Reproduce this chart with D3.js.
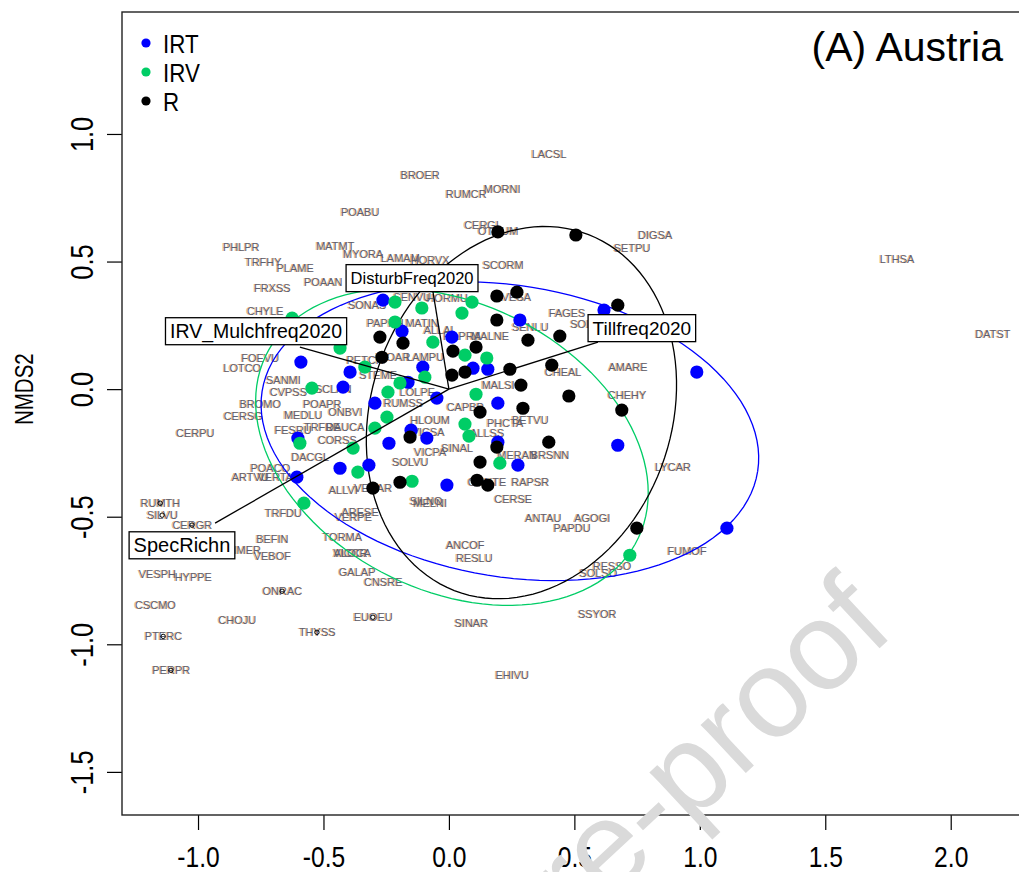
<!DOCTYPE html>
<html>
<head>
<meta charset="utf-8">
<script src="https://cdn.jsdelivr.net/npm/d3@7"></script>
<style>
  html, body { margin: 0; padding: 0; background: #ffffff; }
  svg { display: block; }
</style>
</head>
<body>
<svg id="chart" width="1019" height="872"></svg>
<script>
// ---- NMDS site scores [NMDS1, NMDS2] by management group ----
const irtSites = [
  [-0.263, 0.349], [-0.187, 0.227], [0.012, 0.204], [-0.104, 0.086], [0.096, 0.082],
  [0.155, 0.078], [-0.394, 0.067], [-0.422, 0.008], [-0.163, 0.027], [-0.048, -0.035],
  [-0.295, -0.055], [0.195, -0.055], [0.283, 0.271], [-0.151, -0.161], [-0.088, -0.192],
  [-0.239, -0.212], [0.195, -0.208], [-0.434, -0.310], [-0.319, -0.298], [0.275, -0.298],
  [-0.008, -0.376], [-0.590, 0.106], [-0.602, -0.192], [-0.606, -0.345], [0.618, 0.310],
  [0.988, 0.067], [0.673, -0.220], [1.108, -0.545]
];
const irvSites = [
  [-0.215, 0.341], [-0.108, 0.318], [0.092, 0.341], [0.052, 0.298], [-0.215, 0.263],
  [-0.064, 0.184], [0.064, 0.133], [0.151, 0.122], [-0.434, 0.161], [-0.335, 0.086],
  [-0.096, 0.047], [-0.195, 0.024], [-0.243, -0.012], [0.108, -0.020], [-0.247, -0.110],
  [-0.295, -0.153], [0.064, -0.137], [0.080, -0.184], [-0.382, -0.231], [0.203, -0.290],
  [-0.363, -0.325], [-0.147, -0.361], [-0.546, 0.004], [-0.625, 0.278], [-0.594, -0.212],
  [-0.578, -0.447], [0.721, -0.651]
];
const rSites = [
  [0.195, 0.616], [0.506, 0.604], [0.191, 0.365], [0.271, 0.380], [0.191, 0.271],
  [0.673, 0.329], [-0.275, 0.204], [-0.183, 0.180], [-0.267, 0.125], [0.016, 0.149],
  [0.108, 0.165], [0.315, 0.192], [0.442, 0.208], [0.243, 0.078], [0.012, 0.055],
  [0.064, 0.067], [0.287, 0.016], [0.410, 0.094], [0.478, -0.027], [0.124, -0.090],
  [0.295, -0.075], [0.689, -0.082], [-0.155, -0.188], [0.191, -0.227], [0.398, -0.208],
  [0.124, -0.286], [-0.195, -0.365], [0.112, -0.357], [0.155, -0.376], [-0.303, -0.388],
  [0.749, -0.545]
];

// ---- group names and colours ----
const groupNames = ["IRT", "IRV", "R"];
const groupColors = ["#0000ff", "#00cd66", "#000000"];

// ---- group ellipses: centre, semi-axes, rotation (degrees) ----
const ellipseCenters = [[0.243, -0.165], [0.012, -0.227], [0.289, -0.092]];
const ellipseAxes = [[1.000, 0.571], [0.824, 0.564], [0.747, 0.597]];
const ellipseAngles = [-9, -25.5, 69];

// ---- species scores: code, NMDS1, NMDS2 ----
const species = [
  ["LACSL", 0.398, 0.922], ["BROER", -0.116, 0.839], ["RUMCR", 0.068, 0.765], ["MORNI", 0.211, 0.784],
  ["POABU", -0.355, 0.694], ["CERGL", 0.135, 0.643], ["OTHUM", 0.195, 0.620], ["DIGSA", 0.821, 0.604],
  ["SETPU", 0.729, 0.553], ["LTHSA", 1.785, 0.510], ["PHLPR", -0.829, 0.557], ["MATMT", -0.454, 0.561],
  ["MYORA", -0.343, 0.529], ["LAMAM", -0.195, 0.514], ["HORVX", -0.076, 0.506], ["TRFHY", -0.741, 0.498],
  ["PLAME", -0.614, 0.475], ["SCORM", 0.215, 0.486], ["POAAN", -0.502, 0.420], ["FRXSS", -0.705, 0.396],
  ["SENVU", -0.147, 0.361], ["HORMU", -0.008, 0.357], ["AVESA", 0.255, 0.361], ["SONAS", -0.327, 0.329],
  ["CHYLE", -0.733, 0.306], ["FAGES", 0.470, 0.298], ["SOLTU", 0.554, 0.255], ["PAPRH", -0.255, 0.259],
  ["MATIN", -0.108, 0.259], ["ALLAL", -0.036, 0.231], ["RAPRA", 0.052, 0.208], ["MALNE", 0.163, 0.208],
  ["SENLU", 0.323, 0.243], ["DATST", 2.167, 0.216], ["FOEVU", -0.753, 0.122], ["PETCR", -0.335, 0.114],
  ["LAMPU", -0.096, 0.125], ["VIOAR", -0.223, 0.125], ["AMARE", 0.713, 0.086], ["LOTCO", -0.825, 0.082],
  ["CHEAL", 0.454, 0.067], ["STEME", -0.283, 0.055], ["SANMI", -0.661, 0.035], ["MALSI", 0.195, 0.016],
  ["LOLPE", -0.127, -0.012], ["SCLAN", -0.462, 0.000], ["CVPSS", -0.641, -0.012], ["CHEHY", 0.709, -0.024],
  ["BROMO", -0.753, -0.059], ["POAPR", -0.506, -0.059], ["RUMSS", -0.183, -0.055], ["CAPBP", 0.064, -0.071],
  ["CERSG", -0.821, -0.106], ["ONBVI", -0.414, -0.090], ["MEDLU", -0.582, -0.102], ["BETVU", 0.323, -0.122],
  ["PHCTA", 0.223, -0.133], ["HLOUM", -0.076, -0.122], ["ALLSS", 0.151, -0.173], ["VICSA", -0.084, -0.169],
  ["CERPU", -1.012, -0.173], ["FESRU", -0.622, -0.161], ["TRFRE", -0.506, -0.149], ["DAUCA", -0.414, -0.149],
  ["CORSS", -0.446, -0.200], ["SINAL", 0.032, -0.231], ["VICPA", -0.076, -0.247], ["MERAN", 0.271, -0.259],
  ["BRSNN", 0.402, -0.259], ["DACGL", -0.554, -0.267], ["SOLVU", -0.155, -0.286], ["LYCAR", 0.892, -0.306],
  ["POACO", -0.713, -0.310], ["ARTVU", -0.793, -0.345], ["VERTA", -0.693, -0.345], ["ORNTE", 0.151, -0.365],
  ["RAPSR", 0.323, -0.365], ["ALLVI", -0.422, -0.396], ["VERAR", -0.303, -0.388], ["CERSE", 0.255, -0.431],
  ["SILNO", -0.092, -0.439], ["MELNI", -0.076, -0.447], ["RUMTH", -1.151, -0.447], ["SILVU", -1.143, -0.494],
  ["TRFDU", -0.661, -0.486], ["ARESE", -0.355, -0.482], ["VERPE", -0.382, -0.502], ["ANTAU", 0.375, -0.506],
  ["AGOGI", 0.570, -0.506], ["CERGR", -1.024, -0.533], ["PAPDU", 0.490, -0.545], ["TORMA", -0.426, -0.580],
  ["BEFIN", -0.705, -0.588], ["ANCOF", 0.064, -0.612], ["LIMER", -0.817, -0.631], ["FUMOF", 0.948, -0.635],
  ["VICCR", -0.394, -0.643], ["ALOCA", -0.386, -0.643], ["VEBOF", -0.705, -0.655], ["RESLU", 0.100, -0.663],
  ["RESSO", 0.649, -0.694], ["SOLSO", 0.594, -0.722], ["GALAP", -0.367, -0.718], ["VESPH", -1.163, -0.725],
  ["HYPPE", -1.020, -0.737], ["CNSRE", -0.263, -0.757], ["ONRAC", -0.665, -0.792], ["CSCMO", -1.171, -0.847],
  ["SSYOR", 0.590, -0.882], ["EUOEU", -0.303, -0.894], ["CHOJU", -0.845, -0.906], ["SINAR", 0.088, -0.918],
  ["THYSS", -0.526, -0.953], ["PTERC", -1.139, -0.969], ["PERPR", -1.108, -1.102], ["EHIVU", 0.251, -1.122]
];
// species whose point marker shows through the label
const speciesMarked = ["RUMTH", "SILVU", "CERGR", "ONRAC", "THYSS", "EUOEU", "PTERC", "PERPR"];

// ---- fitted environmental vectors ----
const vectorNames = ["SpecRichn", "IRV_Mulchfreq2020", "DisturbFreq2020", "Tillfreq2020"];
const vectorTips = [[-0.932, -0.525], [-0.594, 0.165], [-0.064, 0.384], [0.594, 0.184]];
const vectorLabels = [[-1.064, -0.612], [-0.769, 0.227], [-0.147, 0.435], [0.769, 0.239]];
const vectorLabelSizes = [20, 19.5, 16.5, 19];

// ---- axes ----
const xTicks = [-1.0, -0.5, 0.0, 0.5, 1.0, 1.5, 2.0];
const yTicks = [-1.5, -1.0, -0.5, 0.0, 0.5, 1.0];
const yTitle = "NMDS2";
const panelTitle = "(A) Austria";

// ---------------------------------------------------------------
const svg = d3.select("#chart");
const plot = { left: 122, top: 12, right: 1031, bottom: 815 };

const x = d3.scaleLinear().domain([-1.303, 2.32]).range([plot.left, plot.right]);
const y = d3.scaleLinear().domain([-1.669, 1.478]).range([plot.bottom, plot.top]);

const font = "'Liberation Sans', Arial, Helvetica, sans-serif";
const squeeze = 0.82;   // condensed look of the axis lettering

svg.append("defs").append("clipPath").attr("id", "plotClip")
  .append("rect")
  .attr("x", plot.left).attr("y", plot.top)
  .attr("width", plot.right - plot.left).attr("height", plot.bottom - plot.top);

const inner = svg.append("g").attr("clip-path", "url(#plotClip)");

// species labels (drawn first, under everything)
const spG = inner.append("g").attr("font-family", font).attr("font-size", 11)
  .attr("text-anchor", "middle");
spG.selectAll("text.fringe").data(species).join("text")
  .attr("class", "fringe")
  .attr("x", d => x(d[1]) - 0.8).attr("y", d => y(d[2]) + 4)
  .attr("fill", "#e3a56a").attr("opacity", 0.8)
  .text(d => d[0]);
spG.selectAll("text.code").data(species).join("text")
  .attr("class", "code")
  .attr("x", d => x(d[1]) + 0.3).attr("y", d => y(d[2]) + 4)
  .attr("fill", "#5c6070")
  .text(d => d[0]);
inner.append("g").selectAll("circle")
  .data(species.filter(d => speciesMarked.includes(d[0])))
  .join("circle")
  .attr("cx", d => x(d[1])).attr("cy", d => y(d[2]))
  .attr("r", 2.2).attr("fill", "none").attr("stroke", "#000").attr("stroke-width", 1);

// group ellipses
function ellipsePoints(c, ax, angDeg) {
  const t = angDeg * Math.PI / 180;
  return d3.range(0, 121).map(i => {
    const p = 2 * Math.PI * i / 120;
    const ex = ax[0] * Math.cos(p), ey = ax[1] * Math.sin(p);
    return [c[0] + ex * Math.cos(t) - ey * Math.sin(t),
            c[1] + ex * Math.sin(t) + ey * Math.cos(t)];
  });
}
const line = d3.line().x(d => x(d[0])).y(d => y(d[1]));
inner.append("g").selectAll("path")
  .data(groupNames.map((g, i) => ellipsePoints(ellipseCenters[i], ellipseAxes[i], ellipseAngles[i])))
  .join("path")
  .attr("d", line)
  .attr("fill", "none")
  .attr("stroke", (d, i) => groupColors[i])
  .attr("stroke-width", 1.3);

// site points
const siteSets = [irtSites, irvSites, rSites];
siteSets.forEach((set, i) => {
  inner.append("g").selectAll("circle").data(set).join("circle")
    .attr("cx", d => x(d[0])).attr("cy", d => y(d[1]))
    .attr("r", 6.6).attr("fill", groupColors[i]);
});

// environmental vectors
inner.append("g").selectAll("line").data(vectorTips).join("line")
  .attr("x1", x(0)).attr("y1", y(0))
  .attr("x2", d => x(d[0])).attr("y2", d => y(d[1]))
  .attr("stroke", "#000").attr("stroke-width", 1.3);

const vlab = inner.append("g").selectAll("g").data(vectorNames).join("g")
  .attr("transform", (d, i) => `translate(${x(vectorLabels[i][0])},${y(vectorLabels[i][1])})`);
vlab.append("rect");
vlab.append("text")
  .attr("text-anchor", "middle")
  .attr("font-family", font).attr("font-size", (d, i) => vectorLabelSizes[i])
  .attr("y", (d, i) => vectorLabelSizes[i] * 0.36).attr("fill", "#000")
  .text(d => d);
vlab.each(function () {
  const g = d3.select(this);
  const bb = g.select("text").node().getBBox();
  g.select("rect")
    .attr("x", bb.x - 4.5).attr("y", -13.5)
    .attr("width", bb.width + 9).attr("height", 27)
    .attr("fill", "#fff").attr("stroke", "#000").attr("stroke-width", 1.3);
});

// axes
const xAxis = svg.append("g").attr("transform", `translate(0,${plot.bottom})`)
  .call(d3.axisBottom(x).tickValues(xTicks).tickSize(15).tickSizeOuter(0)
    .tickFormat(d => d.toFixed(1)));
xAxis.select(".domain").remove();
xAxis.selectAll(".tick line").attr("stroke", "#000").attr("stroke-width", 1.2);
xAxis.selectAll(".tick text")
  .attr("transform", `scale(${squeeze},1)`)
  .attr("y", 52).attr("dy", 0)
  .attr("font-family", font).attr("font-size", 30).attr("fill", "#000");

const yAxis = svg.append("g").attr("transform", `translate(${plot.left},0)`)
  .call(d3.axisLeft(y).tickValues(yTicks).tickSize(15).tickSizeOuter(0)
    .tickFormat(d => d.toFixed(1)));
yAxis.select(".domain").remove();
yAxis.selectAll(".tick line").attr("stroke", "#000").attr("stroke-width", 1.2);
yAxis.selectAll(".tick text")
  .attr("transform", `rotate(-90) scale(${squeeze},1)`)
  .attr("x", 0).attr("y", -29).attr("dy", 0)
  .attr("text-anchor", "middle")
  .attr("font-family", font).attr("font-size", 31).attr("fill", "#000");

svg.append("text")
  .attr("transform", `translate(33,${y(0)}) rotate(-90) scale(${squeeze},1)`)
  .attr("text-anchor", "middle")
  .attr("font-family", font).attr("font-size", 25).attr("fill", "#000")
  .text(yTitle);

// plot frame
svg.append("rect")
  .attr("x", plot.left).attr("y", plot.top)
  .attr("width", plot.right - plot.left).attr("height", plot.bottom - plot.top)
  .attr("fill", "none").attr("stroke", "#222").attr("stroke-width", 1.4);

// legend
const leg = svg.append("g").selectAll("g").data(groupNames).join("g")
  .attr("transform", (d, i) => `translate(146,${43 + i * 29})`);
leg.append("circle").attr("r", 4.6).attr("fill", (d, i) => groupColors[i]);
leg.append("text")
  .attr("transform", `translate(17,10) scale(0.86,1)`)
  .attr("font-family", font).attr("font-size", 26).attr("fill", "#000")
  .text(d => d);

// panel title
svg.append("text")
  .attr("x", 1003).attr("y", 61)
  .attr("text-anchor", "end")
  .attr("font-family", font).attr("font-size", 41).attr("fill", "#000")
  .text(panelTitle);

// preprint watermark
svg.append("text")
  .attr("transform", "translate(897,632) rotate(-43)")
  .attr("text-anchor", "end")
  .attr("font-family", font).attr("font-size", 125)
  .attr("fill", "#dadada")
  .text("Journal Pre-proof");
</script>
</body>
</html>
